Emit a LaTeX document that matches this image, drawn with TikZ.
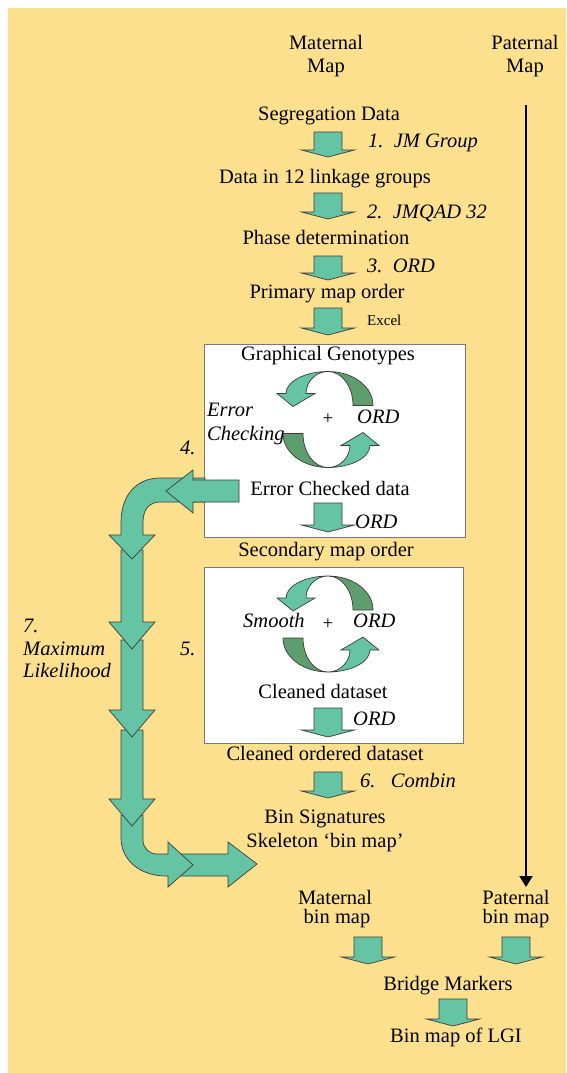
\documentclass[tikz,border=0pt]{standalone}
\usepackage{fontspec}
\setmainfont{Liberation Serif}
\usetikzlibrary{arrows.meta}
\definecolor{bgyellow}{RGB}{253,224,142}
\definecolor{lgreen}{RGB}{101,196,164}
\definecolor{dgreen}{RGB}{94,158,110}
\definecolor{edgegray}{RGB}{60,60,60}
\definecolor{boxgray}{RGB}{120,120,120}
\tikzset{
  blk/.style={fill=lgreen, draw=edgegray, line width=0.7pt, line join=miter},
  dblk/.style={fill=dgreen, draw=edgegray, line width=0.7pt},
  txt/.style={font=\fontsize{20.5}{23}\selectfont, anchor=base, inner sep=0pt},
  itxt/.style={font=\fontsize{20.5}{23}\selectfont\itshape, anchor=base west, inner sep=0pt},
  stxt/.style={font=\fontsize{15}{17}\selectfont, anchor=base west, inner sep=0pt},
  ptxt/.style={font=\fontsize{19}{21}\selectfont, inner sep=0pt},
  boxst/.style={draw=boxgray, fill=white, line width=0.8pt, inner sep=0pt},
  pics/darr/.style={code={
    \draw[blk] (-14,0) -- (-14,#1) -- (-26.5,#1) -- (0,#1+7) -- (26.5,#1) -- (14,#1) -- (14,0) -- cycle;
  }},
  pics/darr/.default=19,
  pics/cyc/.style={code={
    \foreach \r in {0,180}{
      \begin{scope}[rotate=\r]
        \draw[dblk] (45,-14) .. controls (45,-33) and (25,-48) .. (0,-48)
          .. controls (14,-48) and (25,-33) .. (25,-14) -- cycle;
        \draw[blk] (0,-48) .. controls (-23,-48) and (-42,-38) .. (-42,-26)
          -- (-51,-26) -- (-35,-13) -- (-13,-26) -- (-22,-26)
          .. controls (-22,-38) and (-12,-48) .. (0,-48) -- cycle;
      \end{scope}
    }
  }}
}
\begin{document}
\begin{tikzpicture}[x=1pt,y=-1pt]
\useasboundingbox (0,0) rectangle (566,1073);
\fill[bgyellow] (8,8) rectangle (566,1073);

% headers
\node[txt] (mhdr1) at (326,50) {Maternal};
\node[txt] (mhdr2) at (326,72) {Map};
\node[txt] (phdr1) at (525,50) {Paternal};
\node[txt] (phdr2) at (525,72) {Map};

% paternal line
\coordinate (ptop) at (526,105);
\coordinate (pend) at (526,887);
\draw[line width=2pt, -{Triangle[width=13pt,length=11pt]}] (ptop) -- (pend);

% main column top
\node[txt] (seg) at (329,120) {Segregation Data};
\pic at (328,132) {darr=18};
\node[itxt] (l1) at (368,147) {1.\ \ JM Group};
\node[txt] (lg) at (325,183) {Data in 12 linkage groups};
\pic at (328,193) {darr=19};
\node[itxt] (l2) at (367,218) {2.\ \ JMQAD 32};
\node[txt] (phase) at (326,244) {Phase determination};
\pic at (328,256) {darr=17};
\node[itxt] (l3) at (367,272) {3.\ \ ORD};
\node[txt] (prim) at (327,298) {Primary map order};
\pic at (328,308) {darr=20};
\node[stxt] (lx) at (367,325) {Excel};

% box 1
\node[boxst, minimum width=261pt, minimum height=193pt] (box1) at (334.5,440.5) {};
\node[txt] (gg) at (328,360) {Graphical Genotypes};
\pic at (328,419.5) {cyc};
\node[ptxt] (plus1) at (328,419) {+};
\node[itxt] (err1) at (207,416) {Error};
\node[itxt] (err2) at (207,440) {Checking};
\node[itxt] (ord1) at (357,423) {ORD};
\node[txt] (ecd) at (330,495) {Error Checked data};
\pic at (328,503) {darr=22};
\node[itxt] (ord2) at (355,528) {ORD};
\node[txt] (sec) at (326,556) {Secondary map order};

% box 2
\node[boxst, minimum width=259pt, minimum height=176pt] (box2) at (333.5,655) {};
\pic at (328,624) {cyc};
\node[ptxt] (plus2) at (328,624) {+};
\node[itxt] (smooth) at (243,627) {Smooth};
\node[itxt] (ord3) at (353,627) {ORD};
\node[txt] (clean) at (323,698) {Cleaned dataset};
\pic at (328,708) {darr=22};
\node[itxt] (ord4) at (353,725) {ORD};
\node[txt] (cod) at (325,760) {Cleaned ordered dataset};
\pic at (328,772) {darr=19};
\node[itxt] (l6) at (360,787) {6.\ \ \ Combin};
\node[txt] (bins) at (325,823) {Bin Signatures};
\node[txt] (skel) at (325,847) {Skeleton ‘bin map’};

% bin maps
\node[txt] (mb1) at (335,904) {Maternal};
\node[txt] (mb2) at (337,923) {bin map};
\node[txt] (pb1) at (516,904) {Paternal};
\node[txt] (pb2) at (516,923) {bin map};
\pic at (368,937) {darr=20};
\pic at (516,937) {darr=20};
\node[txt] (bridge) at (448,990) {Bridge Markers};
\pic at (453,999) {darr=20};
\node[txt] (lgi) at (456,1042) {Bin map of LGI};

% loop arrow (7. Maximum Likelihood)
\draw[blk] (180,854) -- (228,854) -- (228,842) -- (257,864) -- (228,887) -- (228,876) -- (180,876) -- cycle;
\draw[blk] (121,815) -- (121,838) .. controls (121,860) and (140,876) .. (166,876)
  -- (168,876) -- (168,887) -- (193,865) -- (168,842) -- (168,854) -- (157,854)
  .. controls (149,854) and (143,848) .. (143,840) -- (143,815) -- cycle;
\draw[blk] (121,730) -- (121,799) -- (109,799) -- (132,826) -- (155,799) -- (143,799) -- (143,730) -- cycle;
\draw[blk] (121,640) -- (121,710) -- (109,710) -- (132,737) -- (155,710) -- (143,710) -- (143,640) -- cycle;
\draw[blk] (121,550) -- (121,622) -- (109,622) -- (132,649) -- (155,622) -- (143,622) -- (143,550) -- cycle;
\draw[blk] (205,478) -- (160,478) .. controls (136,478) and (121,496) .. (121,522)
  -- (121,535) -- (109,535) -- (132,559) -- (155,535) -- (143,535) -- (143,522)
  .. controls (143,510) and (149,502) .. (160,502) -- (205,502) -- cycle;
\draw[blk] (239,480) -- (193,480) -- (193,470) -- (166,491) -- (193,513) -- (193,502) -- (239,502) -- cycle;

\node[itxt] (n4) at (180,454) {4.};
\node[itxt] (n5) at (180,655) {5.};
\node[itxt] (n7a) at (23,632) {7.};
\node[itxt] (n7b) at (23,655) {Maximum};
\node[itxt] (n7c) at (23,677) {Likelihood};
\end{tikzpicture}
\end{document}
